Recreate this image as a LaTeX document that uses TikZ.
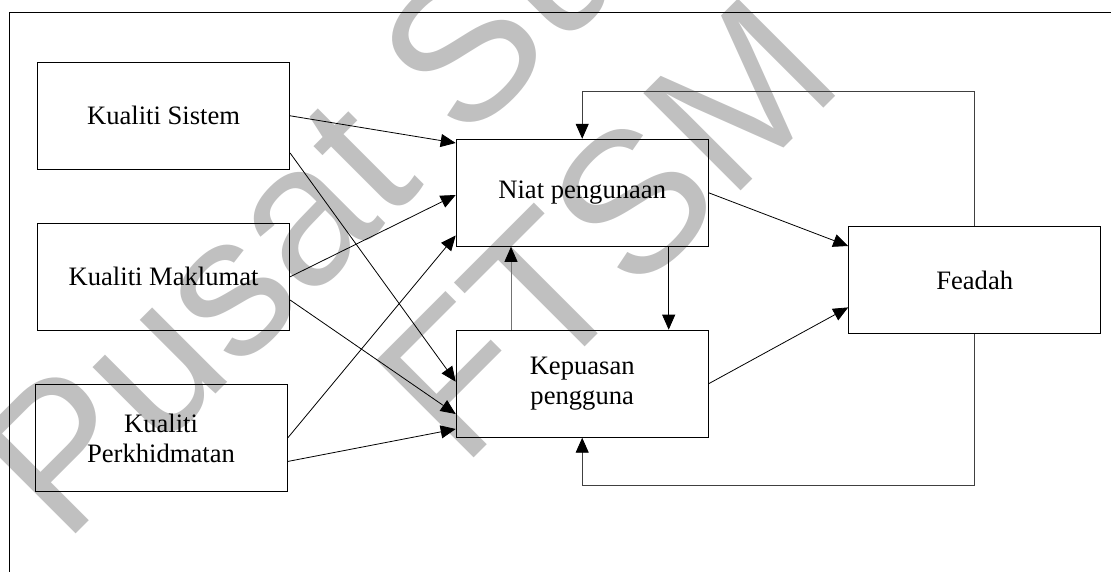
\documentclass[tikz,border=0pt]{standalone}
\usepackage{fontspec}
\setmainfont{Liberation Serif}
\newfontfamily\wmfont{Liberation Sans}
\usetikzlibrary{arrows.meta}
\definecolor{wmgray}{RGB}{192,192,192}
\tikzset{
  box/.style={draw=black, line width=1pt, minimum width=252pt, minimum height=107pt,
    inner sep=0pt, align=center, font=\fontsize{26.6}{30.6}\selectfont},
  link/.style={line width=0.8pt, draw=black, -{Triangle[length=15pt,width=13pt,color=black]}},
  backlink/.style={line width=0.9pt, draw=black!75, -{Triangle[length=15pt,width=13pt,color=black]}},
  wmark/.style={text=wmgray, font=\wmfont\fontsize{200}{200}\selectfont,
    rotate=45, anchor=base west, inner sep=0pt},
}
\begin{document}
\begin{tikzpicture}[x=1pt,y=-1pt]
\path[use as bounding box, clip] (0,0) rectangle (1111,572);

% background stamp
\node[wmark] (stamp1) at (64,546) {Pusat Sumber};
\node[wmark] (stamp2) at (462,470) {FTSM};

% outer frame (top and left rules)
\coordinate (frtr) at (1111,12.3);
\coordinate (frtl) at (9.6,12.3);
\coordinate (frbl) at (9.6,572);
\draw[line width=1pt] (frtr) -- (frtl) -- (frbl);

% constructs
\node[box] (ks)   at (163.6,115.8) {Kualiti Sistem};
\node[box] (km)   at (163.6,276.8) {Kualiti Maklumat};
\node[box] (kp)   at (161.0,438.2) {Kualiti\\Perkhidmatan};
\node[box] (niat) at (582.2,192.8) {Niat pengunaan};
\node[box] (kep)  at (582.2,383.7) {Kepuasan\\pengguna};
\node[box] (fea)  at (974.7,280.0) {Feadah};

% quality dimensions to intention / satisfaction
\draw[link] (ks.east) -- ([yshift=-4.2pt]niat.north west);
\draw[link] ([yshift=16.8pt]ks.south east) -- ([yshift=2pt]kep.west);
\draw[link] (km.east) -- ([yshift=-2.2pt]niat.west);
\draw[link] ([yshift=-23.2pt]km.east) -- ([yshift=23.7pt]kep.south west);
\draw[link] (kp.east) -- ([yshift=11.3pt]niat.south west);
\draw[link] ([yshift=-23.3pt]kp.east) -- ([yshift=8.7pt]kep.south west);

% intention <-> satisfaction
\draw[link] ([xshift=86.5pt]niat.south) -- ([xshift=86.5pt]kep.north);
\draw[link, draw=black!55] ([xshift=-71.2pt]kep.north) -- ([xshift=-71.2pt]niat.south);

% to net benefits
\draw[link] (niat.east) -- ([yshift=-20pt]fea.north west);
\draw[link] (kep.east) -- ([yshift=26.6pt]fea.south west);

% feedback loops
\coordinate (looptop) at (0,91);
\coordinate (loopbot) at (0,485.3);
\draw[backlink] (fea.north) |- (looptop -| niat.north) -- (niat.north);
\draw[backlink] (fea.south) |- (loopbot -| kep.south) -- (kep.south);
\end{tikzpicture}
\end{document}
